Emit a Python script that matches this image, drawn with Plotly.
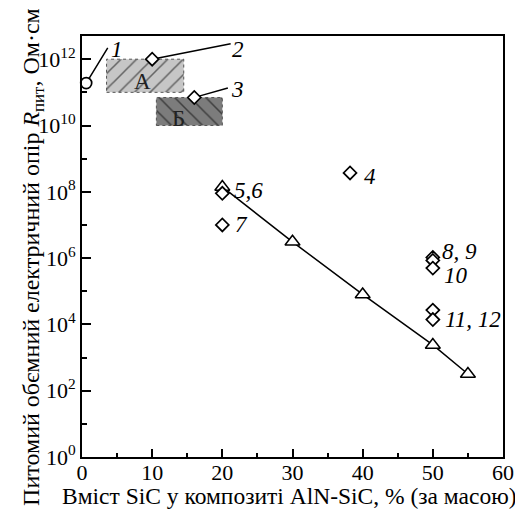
import math
import plotly.graph_objects as go

# ---- data ----
circle_x = [0.6]
circle_y = [1.9e11]

diamond_x = [10, 16, 38.2, 20, 20, 50, 50, 50, 50, 50]
diamond_y = [1.0e12, 7.0e10, 3.7e8, 9.0e7, 1.0e7, 1.05e6, 8.5e5, 5.0e5, 2.7e4, 1.4e4]

triangle_x = [20, 30, 40, 50, 55]
triangle_y = [1.4e8, 3.1e6, 8.0e4, 2.4e3, 3.2e2]

rectA_x = [3.5, 14.5]
rectA_y = [1e11, 1e12]
rectB_x = [10.6, 20]
rectB_y = [1e10, 7e10]

# label positions (data units) for the leader-line labels 1, 2, 3
leader_text = ["1", "2", "3"]
leader_label_x = [5.0, 22.3, 22.2]
leader_label_y = [2.0e12, 2.0e12, 1.23e11]
leader_end_x = [3.8, 21.4, 21.0]
leader_end_y = [2.45e12, 3.0e12, 1.4e11]

x_tick_vals = [0, 10, 20, 30, 40, 50, 60]
y_tick_vals = [1e0, 1e2, 1e4, 1e6, 1e8, 1e10, 1e12]
y_tick_text = ["10<sup>0</sup>", "10<sup>2</sup>", "10<sup>4</sup>", "10<sup>6</sup>",
               "10<sup>8</sup>", "10<sup>10</sup>", "10<sup>12</sup>"]
y_minor_vals = [1e1, 1e3, 1e5, 1e7, 1e9, 1e11]

FONT = "Liberation Serif"

fig = go.Figure()


def rect_trace(xs, ys, bg, shape):
    return go.Scatter(
        x=[xs[0], xs[1], xs[1], xs[0], xs[0]],
        y=[ys[0], ys[0], ys[1], ys[1], ys[0]],
        mode="lines", fill="toself",
        fillcolor=bg,
        fillpattern=dict(shape=shape, bgcolor=bg, fgcolor="black", size=11, solidity=0.14),
        line=dict(color="#555555", width=1, dash="dot"),
        hoverinfo="skip", showlegend=False)


fig.add_trace(rect_trace(rectA_x, rectA_y, "#c6c6c6", "/"))
fig.add_trace(rect_trace(rectB_x, rectB_y, "#7c7c7c", "\\"))

fig.add_trace(go.Scatter(
    x=triangle_x, y=triangle_y, mode="lines+markers",
    line=dict(color="black", width=1.5),
    marker=dict(symbol="triangle-up", size=13, color="white",
                line=dict(color="black", width=1.5)),
    showlegend=False))

fig.add_trace(go.Scatter(
    x=diamond_x, y=diamond_y, mode="markers",
    marker=dict(symbol="diamond", size=10, color="white",
                line=dict(color="black", width=1.7)),
    showlegend=False))

fig.add_trace(go.Scatter(
    x=circle_x, y=circle_y, mode="markers",
    marker=dict(symbol="circle", size=11, color="white",
                line=dict(color="black", width=1.7)),
    cliponaxis=False,
    showlegend=False))

lab_font = dict(family=FONT, size=23, color="black")


def ital(t):
    return "<i>" + t + "</i>"


# leader lines (from point to near label) and labels
head_x = [circle_x[0], diamond_x[0], diamond_x[1]]
head_y = [circle_y[0], diamond_y[0], diamond_y[1]]
for i in range(3):
    fig.add_annotation(x=head_x[i], y=math.log10(head_y[i]), xref="x", yref="y",
                       ax=leader_end_x[i], ay=math.log10(leader_end_y[i]),
                       axref="x", ayref="y", text="", showarrow=True,
                       arrowhead=0, arrowwidth=1.5, arrowcolor="black", standoff=5)
    fig.add_annotation(x=leader_label_x[i], y=math.log10(leader_label_y[i]),
                       text=ital(leader_text[i]), showarrow=False, font=lab_font)

plain = [
    (diamond_x[2], diamond_y[2], "4", 20, -4),
    (diamond_x[3], diamond_y[3], "5,6", 26, 3),
    (diamond_x[4], diamond_y[4], "7", 19, 0),
    (diamond_x[5], diamond_y[5], "8, 9", 27, 6),
    (diamond_x[7], diamond_y[7], "10", 23, -7),
    (diamond_x[9], diamond_y[9], "11, 12", 40, 0),
]
for x, y, t, dx, dy in plain:
    fig.add_annotation(x=x, y=math.log10(y), text=ital(t), showarrow=False,
                       xshift=dx, yshift=dy, font=lab_font)

# region letters
fig.add_annotation(x=sum(rectA_x) / 2, y=math.log10(rectA_y[0] * rectA_y[1]) / 2,
                   text="А", showarrow=False, xshift=-3, yshift=-6,
                   font=dict(family=FONT, size=23, color="#222222"))
fig.add_annotation(x=sum(rectB_x) / 2, y=math.log10(rectB_y[0] * rectB_y[1]) / 2,
                   text="Б", showarrow=False, xshift=-11, yshift=-7,
                   font=dict(family=FONT, size=23, color="#222222"))

# axis titles
fig.add_annotation(xref="paper", yref="paper", x=0.492, y=-0.128,
                   text="Вміст SiC у композиті AlN-SiC, % (за масою)",
                   showarrow=False, font=dict(family=FONT, size=23.5, color="black"))
fig.add_annotation(xref="paper", yref="paper", x=-0.157, y=0.475, textangle=-90,
                   text="Питомий обємний електричний опір <i>R</i><sub>пит</sub>, Ом·см",
                   showarrow=False, font=dict(family=FONT, size=24, color="black"))

fig.update_xaxes(range=[0, 60], tickvals=x_tick_vals, showgrid=False, zeroline=False,
                 automargin=False, ticklabelstandoff=-5,
                 showline=True, linecolor="black", linewidth=2, mirror=True,
                 ticks="inside", ticklen=8, tickwidth=1.5, tickcolor="black",
                 minor=dict(tickvals=[5, 15, 25, 35, 45, 55], ticks="inside",
                            ticklen=4, tickwidth=1.5, tickcolor="black"),
                 tickfont=dict(family=FONT, size=22, color="black"))
fig.update_yaxes(type="log", range=[0, 12.7], tickvals=y_tick_vals, ticktext=y_tick_text,
                 showgrid=False, zeroline=False, automargin=False,
                 showline=True, linecolor="black", linewidth=2, mirror=True,
                 ticks="inside", ticklen=9, tickwidth=1.5, tickcolor="black",
                 minor=dict(tickvals=y_minor_vals, ticks="inside",
                            ticklen=5, tickwidth=1.5, tickcolor="black"),
                 tickfont=dict(family=FONT, size=22, color="black"))

# page body has an 8px margin, so the figure is sized/offset to compensate
fig.update_layout(width=515, height=511, margin=dict(l=74, r=20, t=28, b=62),
                  plot_bgcolor="white", paper_bgcolor="white", showlegend=False)

fig.write_html("out.html")
